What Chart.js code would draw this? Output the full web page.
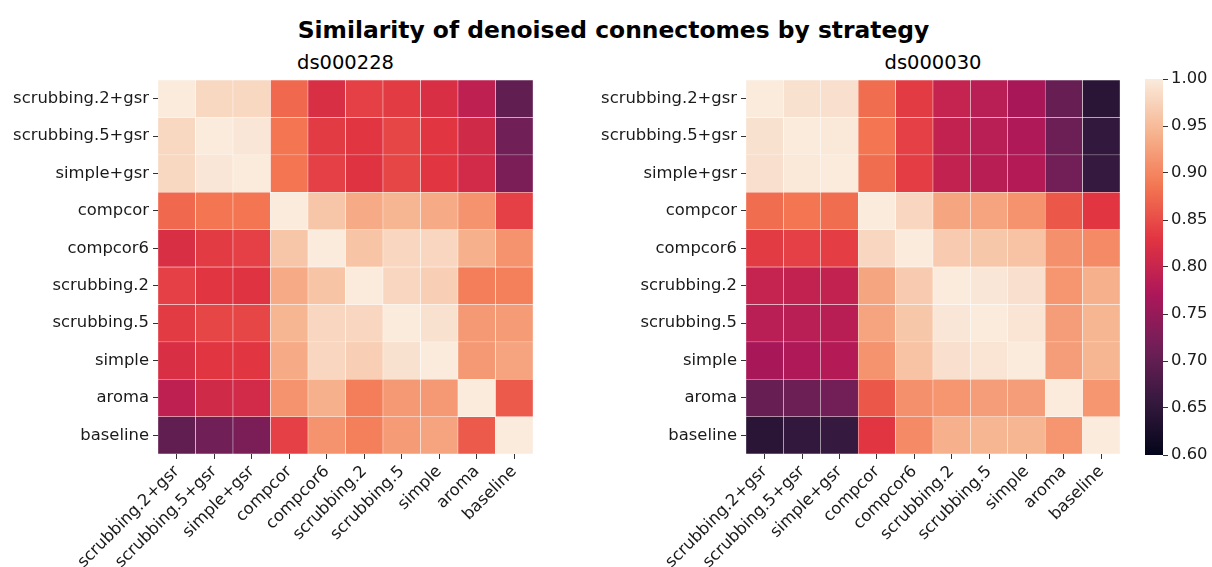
<!DOCTYPE html>
<html>
<head>
<meta charset="utf-8">
<script src="https://cdn.jsdelivr.net/npm/chart.js@4.4.1/dist/chart.umd.min.js"></script>
<style>
  html, body { margin: 0; padding: 0; background: #fff; }
  body { width: 1212px; height: 567px; position: relative; overflow: hidden; font-family: "DejaVu Sans", sans-serif; color: #000; }
  canvas { position: absolute; }
  .title { position: absolute; white-space: nowrap; transform: translate(-50%, -50%); }
  #suptitle { left: 613.5px; top: 30px; font-size: 23.4px; font-weight: bold; }
  .sub { top: 62px; font-size: 19.5px; }
</style>
</head>
<body>
<div id="suptitle" class="title">Similarity of denoised connectomes by strategy</div>
<div class="title sub" style="left:345.5px">ds000228</div>
<div class="title sub" style="left:933px">ds000030</div>
<canvas id="c1" width="545" height="497" style="left:0px;top:70px"></canvas>
<canvas id="c2" width="542" height="497" style="left:590px;top:70px"></canvas>
<canvas id="cb" width="72" height="497" style="left:1140px;top:70px"></canvas>
<script>
// ---------------- data ----------------
const strategies = ["scrubbing.2+gsr", "scrubbing.5+gsr", "simple+gsr", "compcor", "compcor6",
                    "scrubbing.2", "scrubbing.5", "simple", "aroma", "baseline"];

const ds000228 = [
  [1.000, 0.980, 0.980, 0.875, 0.820, 0.840, 0.835, 0.820, 0.790, 0.700],
  [0.980, 1.000, 0.995, 0.885, 0.835, 0.830, 0.845, 0.830, 0.810, 0.714],
  [0.980, 0.995, 1.000, 0.885, 0.840, 0.828, 0.845, 0.830, 0.812, 0.725],
  [0.875, 0.885, 0.885, 1.000, 0.962, 0.935, 0.945, 0.935, 0.912, 0.840],
  [0.820, 0.835, 0.840, 0.962, 1.000, 0.960, 0.978, 0.978, 0.940, 0.912],
  [0.840, 0.830, 0.828, 0.935, 0.960, 1.000, 0.978, 0.970, 0.893, 0.895],
  [0.835, 0.845, 0.845, 0.945, 0.978, 0.978, 1.000, 0.990, 0.918, 0.920],
  [0.820, 0.830, 0.830, 0.935, 0.978, 0.970, 0.990, 1.000, 0.918, 0.928],
  [0.790, 0.810, 0.812, 0.912, 0.940, 0.893, 0.918, 0.918, 1.000, 0.862],
  [0.700, 0.714, 0.725, 0.840, 0.912, 0.895, 0.920, 0.928, 0.862, 1.000]
];

const ds000030 = [
  [1.000, 0.990, 0.988, 0.878, 0.835, 0.797, 0.785, 0.767, 0.705, 0.645],
  [0.990, 1.000, 0.997, 0.885, 0.840, 0.793, 0.785, 0.775, 0.710, 0.655],
  [0.988, 0.997, 1.000, 0.878, 0.837, 0.793, 0.783, 0.778, 0.716, 0.657],
  [0.878, 0.885, 0.878, 1.000, 0.978, 0.930, 0.928, 0.912, 0.860, 0.830],
  [0.835, 0.840, 0.837, 0.978, 1.000, 0.967, 0.963, 0.958, 0.910, 0.905],
  [0.797, 0.793, 0.793, 0.930, 0.967, 1.000, 0.995, 0.988, 0.915, 0.940],
  [0.785, 0.785, 0.783, 0.928, 0.963, 0.995, 1.000, 0.993, 0.922, 0.945],
  [0.767, 0.775, 0.778, 0.912, 0.958, 0.988, 0.993, 1.000, 0.922, 0.945],
  [0.705, 0.710, 0.716, 0.860, 0.910, 0.915, 0.922, 0.922, 1.000, 0.915],
  [0.645, 0.655, 0.657, 0.830, 0.905, 0.940, 0.945, 0.945, 0.915, 1.000]
];

const vmin = 0.6, vmax = 1.0;
const colorbarTicks = [0.60, 0.65, 0.70, 0.75, 0.80, 0.85, 0.90, 0.95, 1.00];

// ---------------- colormap (rocket) ----------------
const rocket = [
  [0.0, [3, 5, 26]],
  [1 / 7, [53, 25, 62]],
  [2 / 7, [112, 31, 87]],
  [3 / 7, [173, 23, 89]],
  [4 / 7, [225, 51, 66]],
  [5 / 7, [243, 118, 81]],
  [6 / 7, [246, 180, 143]],
  [1.0, [250, 235, 221]]
];
function cmap(t) {
  t = Math.max(0, Math.min(1, t));
  for (let i = 1; i < rocket.length; i++) {
    if (t <= rocket[i][0]) {
      const [t0, c0] = rocket[i - 1], [t1, c1] = rocket[i];
      const f = (t - t0) / (t1 - t0);
      const c = c0.map((v, k) => Math.round(v + (c1[k] - v) * f));
      return `rgb(${c[0]},${c[1]},${c[2]})`;
    }
  }
  const c = rocket[rocket.length - 1][1];
  return `rgb(${c[0]},${c[1]},${c[2]})`;
}
const valColor = v => cmap((v - vmin) / (vmax - vmin));

const TICK_FONT = { family: "'DejaVu Sans', sans-serif", size: 16.4 };
const TEXT = '#1a1a1a';

function heatmap(canvasId, matrix, yWidth) {
  const datasets = matrix.map((row, r) => ({
    data: strategies.map((s, c) => ({ x: s, y: [r, r + 1] })),
    backgroundColor: ctx => valColor(matrix[r][ctx.dataIndex]),
    borderColor: '#ffffff',
    borderWidth: 0.5,
    borderSkipped: false,
    grouped: false,
    barPercentage: 1,
    categoryPercentage: 1
  }));
  return new Chart(document.getElementById(canvasId), {
    type: 'bar',
    data: { labels: strategies, datasets },
    options: {
      responsive: false,
      animation: false,
      events: [],
      layout: { padding: { left: 0, top: 10, right: 12, bottom: 0 } },
      plugins: { legend: { display: false }, tooltip: { enabled: false } },
      scales: {
        x: {
          type: 'category',
          offset: true,
          border: { display: false },
          grid: { display: true, drawOnChartArea: false, drawTicks: true, tickLength: 5, tickColor: '#333', tickWidth: 1, offset: false },
          ticks: { autoSkip: false, minRotation: 45, maxRotation: 45, padding: 3, color: TEXT, font: TICK_FONT },
          afterFit: s => { s.height = 113; s.paddingLeft = 0; s.paddingRight = 0; }
        },
        y: {
          type: 'linear',
          min: 0, max: 10, reverse: true,
          border: { display: false },
          grid: { display: true, drawOnChartArea: false, drawTicks: true, tickLength: 5, tickColor: '#333', tickWidth: 1 },
          afterBuildTicks: axis => { axis.ticks = strategies.map((_, i) => ({ value: i + 0.5 })); },
          ticks: { padding: 4, color: TEXT, font: TICK_FONT, callback: v => strategies[Math.floor(v)] },
          afterFit: s => { s.width = yWidth; s.paddingTop = 0; s.paddingBottom = 0; }
        }
      }
    }
  });
}

heatmap('c1', ds000228, 158);
heatmap('c2', ds000030, 156);

// ---------------- colorbar ----------------
new Chart(document.getElementById('cb'), {
  type: 'bar',
  data: {
    labels: ['colorbar'],
    datasets: [{
      data: [[vmin, vmax]],
      barPercentage: 1,
      categoryPercentage: 1,
      borderWidth: 0,
      backgroundColor: ctx => {
        const chart = ctx.chart, area = chart.chartArea;
        if (!area) return '#000';
        const yS = chart.scales.y;
        const g = chart.ctx.createLinearGradient(0, yS.getPixelForValue(vmin), 0, yS.getPixelForValue(vmax));
        for (let i = 0; i <= 40; i++) g.addColorStop(i / 40, cmap(i / 40));
        return g;
      }
    }]
  },
  options: {
    responsive: false,
    animation: false,
    events: [],
    layout: { padding: { left: 5, top: 9, right: 0, bottom: 112 } },
    plugins: { legend: { display: false }, tooltip: { enabled: false } },
    scales: {
      x: { display: false },
      y: {
        position: 'right',
        min: vmin, max: vmax,
        border: { display: false },
        grid: { display: true, drawOnChartArea: false, drawTicks: true, tickLength: 5, tickColor: '#333', tickWidth: 1 },
        afterBuildTicks: axis => { axis.ticks = colorbarTicks.map(v => ({ value: v })); },
        ticks: { padding: 3, color: TEXT, font: TICK_FONT, callback: v => v.toFixed(2) },
        afterFit: s => { s.width = 49; s.paddingTop = 0; s.paddingBottom = 0; }
      }
    }
  }
});
</script>
</body>
</html>
